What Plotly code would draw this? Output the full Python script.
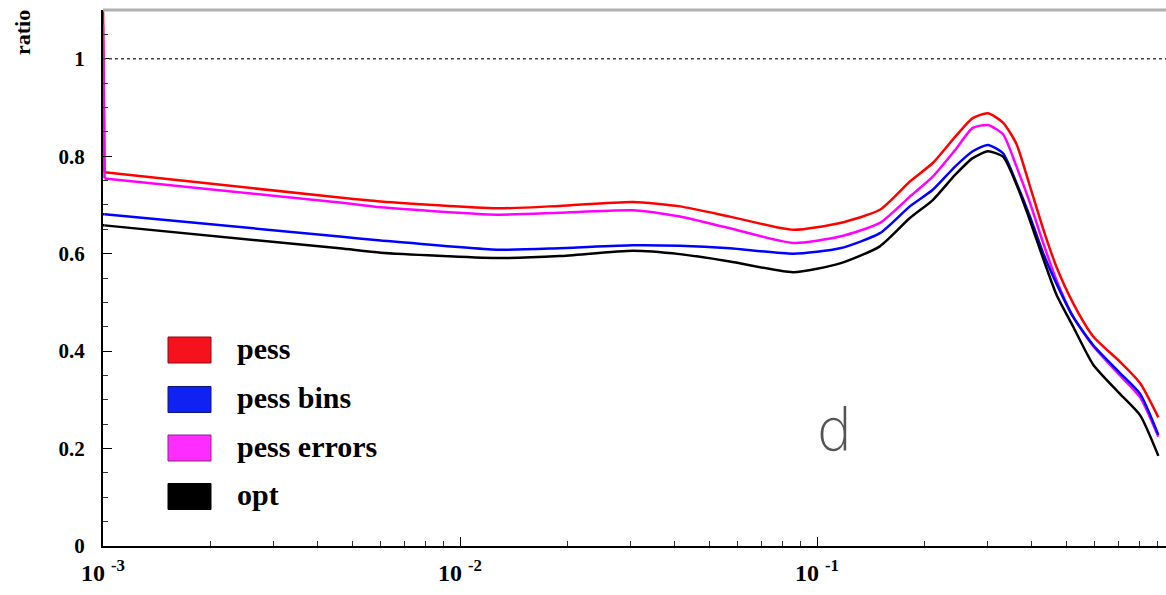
import plotly.graph_objects as go

# ---- data ----
x_vals = [0.001, 0.00101, 0.0046, 0.006, 0.0127, 0.019, 0.0305, 0.0413, 0.057,
          0.0857, 0.116, 0.150, 0.182, 0.211, 0.244, 0.273, 0.301, 0.332,
          0.362, 0.395, 0.43, 0.469, 0.522, 0.594, 0.706, 0.804, 0.904]

pess = [1.10, 0.767, 0.715, 0.707, 0.693, 0.698, 0.706, 0.697, 0.676,
        0.649, 0.663, 0.690, 0.748, 0.786, 0.840, 0.878, 0.888, 0.869,
        0.825, 0.738, 0.651, 0.572, 0.498, 0.430, 0.378, 0.334, 0.264]
pess_errors = [1.07, 0.754, 0.705, 0.695, 0.680, 0.684, 0.689, 0.676, 0.652,
               0.622, 0.635, 0.663, 0.717, 0.758, 0.813, 0.858, 0.864, 0.845,
               0.779, 0.704, 0.622, 0.545, 0.470, 0.410, 0.350, 0.305, 0.224]
pess_bins = [0.681, 0.681, 0.635, 0.627, 0.608, 0.611, 0.617, 0.616, 0.611,
             0.600, 0.611, 0.642, 0.697, 0.731, 0.779, 0.810, 0.823, 0.806,
             0.745, 0.676, 0.601, 0.538, 0.470, 0.412, 0.355, 0.312, 0.228]
opt = [0.658, 0.658, 0.611, 0.602, 0.591, 0.595, 0.606, 0.599, 0.584,
       0.562, 0.580, 0.615, 0.673, 0.710, 0.762, 0.796, 0.810, 0.799,
       0.742, 0.668, 0.590, 0.515, 0.450, 0.372, 0.312, 0.268, 0.185]

legend_names = ["pess", "pess bins", "pess errors", "opt"]
legend_colors = ["#f5121c", "#0f22f2", "#ff2cff", "#000000"]
legend_edges = ["#8a0a10", "#0a1580", "#902090", "#000000"]

x_tick_vals = [0.001, 0.01, 0.1]
x_tick_text = ["10 <sup>-3</sup>", "10 <sup>-2</sup>", "10 <sup>-1</sup>"]
y_tick_vals = [0, 0.2, 0.4, 0.6, 0.8, 1]
y_tick_text = ["0", "0.2", "0.4", "0.6", "0.8", "1"]

SERIF = "Liberation Serif"
PLOT_H = 536.0
PLOT_W = 1063.0

fig = go.Figure()
series = [(pess, "pess", "#ff0000"),
          (pess_errors, "pess errors", "#ff00ff"),
          (pess_bins, "pess bins", "#0000ff"),
          (opt, "opt", "#000000")]
for ys, name, col in series:
    # initial spike at the lower edge of the range (straight segment)
    fig.add_trace(go.Scatter(x=x_vals[:2], y=ys[:2], mode="lines", name=name,
                             line=dict(color=col, width=2.5),
                             showlegend=False, cliponaxis=True))
    # main smooth curve
    fig.add_trace(go.Scatter(x=x_vals[1:], y=ys[1:], mode="lines", name=name,
                             line=dict(color=col, width=2.5, shape="spline", smoothing=0.6),
                             showlegend=False, cliponaxis=True))

# reference line at 1
fig.add_shape(type="line", xref="paper", yref="y", x0=0, x1=1, y0=1, y1=1,
              line=dict(color="#444", width=1.3, dash="dot"))
# grey top frame
fig.add_shape(type="line", xref="paper", yref="paper", x0=0, x1=1, y0=1, y1=1,
              line=dict(color="#b0b0b0", width=3))

# legend drawn as boxes + labels
leg_pix = [350, 399.5, 448, 496.5]
for name, fc, ec, yp in zip(legend_names, legend_colors, legend_edges, leg_pix):
    yc = (546 - yp) / PLOT_H
    fig.add_shape(type="rect", xref="paper", yref="paper",
                  x0=(168 - 103) / PLOT_W, x1=(211 - 103) / PLOT_W,
                  y0=yc - 13 / PLOT_H, y1=yc + 13 / PLOT_H,
                  fillcolor=fc, line=dict(color=ec, width=1))
    fig.add_annotation(xref="paper", yref="paper", x=(235 - 103) / PLOT_W, y=yc + 2 / PLOT_H,
                       text=name, showarrow=False, xanchor="left", yanchor="middle",
                       font=dict(family=SERIF, size=30, color="black", weight="bold"))

# "d" label
fig.add_annotation(xref="paper", yref="paper", x=(834 - 103) / PLOT_W, y=(546 - 431) / PLOT_H,
                   text="d", showarrow=False, xanchor="center", yanchor="middle",
                   font=dict(family="DejaVu Sans", size=58, color="#555", weight=200))

# y axis title
fig.add_annotation(xref="paper", yref="paper", x=-(103 - 23) / PLOT_W, y=(546 - 33) / PLOT_H,
                   text="ratio", textangle=-90, showarrow=False,
                   xanchor="center", yanchor="middle",
                   font=dict(family=SERIF, size=22, color="black", weight="bold"))

fig.update_xaxes(type="log", range=[-3, -0.0224],
                 tickvals=x_tick_vals, ticktext=x_tick_text,
                 ticks="inside", ticklen=9, tickwidth=1, tickcolor="black",
                 minor=dict(ticks="inside", ticklen=5, tickcolor="#333",
                            dtick="D1", showgrid=False),
                 showline=True, linecolor="black", linewidth=2,
                 showgrid=False, zeroline=False, ticklabelstandoff=4,
                 tickfont=dict(family=SERIF, size=24, color="black", weight="bold"))
fig.update_yaxes(range=[0, 1.1], tickvals=y_tick_vals, ticktext=y_tick_text,
                 ticks="inside", ticklen=9, tickwidth=1, tickcolor="black",
                 minor=dict(ticks="inside", ticklen=5, tickcolor="#333",
                            dtick=0.05, showgrid=False),
                 showline=True, linecolor="black", linewidth=2,
                 showgrid=False, zeroline=False, ticklabelstandoff=12,
                 tickfont=dict(family=SERIF, size=21, color="black", weight="bold"))

fig.update_layout(width=1166, height=595,
                  margin=dict(l=103, r=0, t=10, b=49),
                  paper_bgcolor="white", plot_bgcolor="white",
                  showlegend=False)

fig.write_html("out.html")
